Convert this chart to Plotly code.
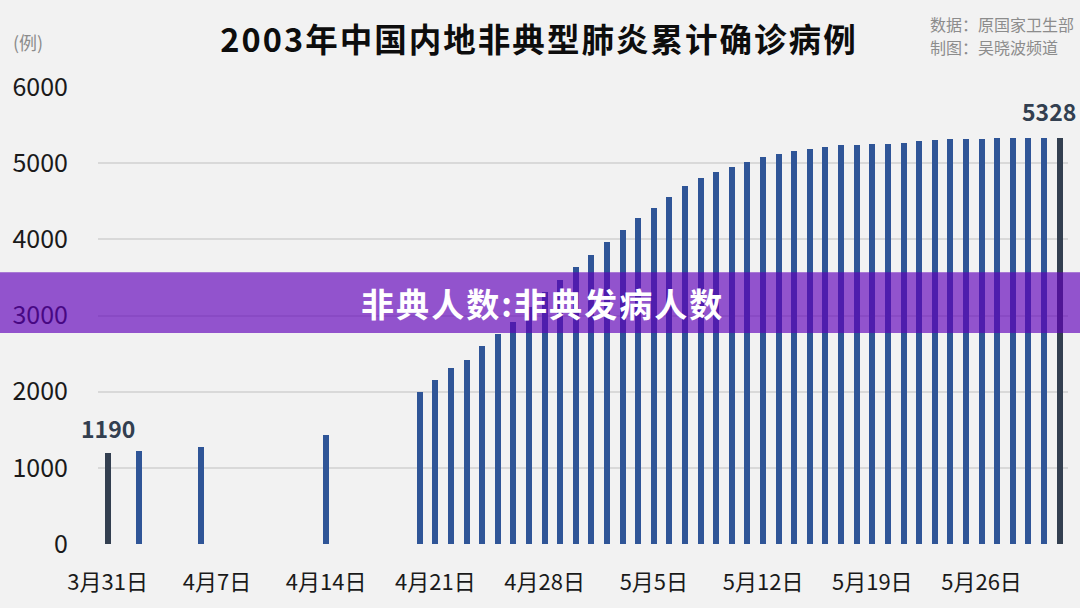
import plotly.graph_objects as go

# ---- data ----
dates = ["2003-03-31", "2003-04-02", "2003-04-06", "2003-04-14",
         "2003-04-20", "2003-04-21", "2003-04-22", "2003-04-23", "2003-04-24",
         "2003-04-25", "2003-04-26", "2003-04-27", "2003-04-28", "2003-04-29",
         "2003-04-30", "2003-05-01", "2003-05-02", "2003-05-03", "2003-05-04",
         "2003-05-05", "2003-05-06", "2003-05-07", "2003-05-08", "2003-05-09",
         "2003-05-10", "2003-05-11", "2003-05-12", "2003-05-13", "2003-05-14",
         "2003-05-15", "2003-05-16", "2003-05-17", "2003-05-18", "2003-05-19",
         "2003-05-20", "2003-05-21", "2003-05-22", "2003-05-23", "2003-05-24",
         "2003-05-25", "2003-05-26", "2003-05-27", "2003-05-28", "2003-05-29",
         "2003-05-30", "2003-05-31"]
cases = [1190, 1220, 1268, 1430,
         2001, 2158, 2305, 2422, 2601,
         2753, 2914, 3106, 3303, 3460,
         3638, 3799, 3971, 4125, 4280,
         4409, 4560, 4698, 4805, 4884,
         4948, 5013, 5086, 5124, 5163,
         5191, 5209, 5236, 5236, 5249,
         5249, 5271, 5285, 5309, 5316,
         5316, 5323, 5325, 5328, 5328,
         5328, 5328]

tick_dates = ["2003-03-31", "2003-04-07", "2003-04-14", "2003-04-21", "2003-04-28",
              "2003-05-05", "2003-05-12", "2003-05-19", "2003-05-26"]
tick_text = ["3月31日", "4月7日", "4月14日", "4月21日", "4月28日",
             "5月5日", "5月12日", "5月19日", "5月26日"]
y_ticks = [0, 1000, 2000, 3000, 4000, 5000, 6000]

title_text = "2003年中国内地非典型肺炎累计确诊病例"
unit_text = "(例)"
source_line1 = "数据：原国家卫生部"
source_line2 = "制图：吴晓波频道"
banner_text = "非典人数:非典发病人数"

# ---- styles ----
BLUE = "#2f5597"
DARK = "#333f50"
FONT = "Noto Sans CJK SC"
HAIR = "\u200a"

colors = [BLUE] * len(cases)
colors[0] = DARK
colors[-1] = DARK
day_ms = 24 * 3600 * 1000
bar_w = 0.385 * day_ms

fig = go.Figure()
fig.add_trace(go.Bar(
    x=dates, y=cases, width=[bar_w] * len(cases),
    marker=dict(color=colors, line=dict(width=0)),
    hoverinfo="x+y",
))

W, H = 1080, 608
ml, mr, mt, mb = 96, 12, 87, 62
pw = W - ml - mr
ph = H - mt - mb


def px(x):
    return (x - ml) / pw


def py(y):
    return (H - mb - y) / ph


spaced_title = HAIR.join(list(title_text))
spaced_banner = HAIR.join(list(banner_text))

fig.update_layout(
    width=W, height=H,
    margin=dict(l=ml, r=mr, t=mt, b=mb),
    paper_bgcolor="#f2f2f2", plot_bgcolor="#f2f2f2",
    showlegend=False,
    bargap=0,
    font=dict(family=FONT, color="#1a1a1a"),
    title=dict(text="<b>" + spaced_title + "</b>", x=538 / W, xref="container",
               xanchor="center", y=1 - 41 / H, yref="container", yanchor="middle",
               font=dict(size=32.5, color="#0d0d0d", family=FONT)),
    xaxis=dict(
        type="date",
        range=["2003-03-30 09:07", "2003-05-31 13:00"],
        tickmode="array", tickvals=tick_dates, ticktext=tick_text,
        tickfont=dict(size=22, color="#1a1a1a", family=FONT),
        ticks="outside", ticklen=19, tickcolor="rgba(0,0,0,0)",
        showgrid=False, zeroline=False, showline=False,
    ),
    yaxis=dict(
        range=[0, 6000],
        tickmode="array", tickvals=y_ticks,
        tickfont=dict(size=25, color="#1a1a1a", family=FONT),
        ticks="outside", ticklen=24, tickcolor="rgba(0,0,0,0)",
        showgrid=True, gridcolor="#d9d9d9", gridwidth=1.5,
        zeroline=False, showline=False,
    ),
)

annotations = [
    dict(x=dates[0], y=cases[0], xref="x", yref="y", text="<b>%d</b>" % cases[0],
         showarrow=False, yanchor="bottom", xanchor="center", yshift=6,
         font=dict(size=23, color=DARK, family=FONT)),
    dict(x=dates[-1], y=cases[-1], xref="x", yref="y", text="<b>%d</b>" % cases[-1],
         showarrow=False, yanchor="bottom", xanchor="center", xshift=-11, yshift=8,
         font=dict(size=23, color=DARK, family=FONT)),
    dict(x=px(9), y=py(42), xref="paper", yref="paper", text=unit_text,
         showarrow=False, xanchor="left", yanchor="middle",
         font=dict(size=18, color="#8c8c8c", family=FONT)),
    dict(x=px(928), y=py(24), xref="paper", yref="paper", text=source_line1,
         showarrow=False, xanchor="left", yanchor="middle", align="left",
         font=dict(size=16, color="#8c8c8c", family=FONT)),
    dict(x=px(928), y=py(46.5), xref="paper", yref="paper", text=source_line2,
         showarrow=False, xanchor="left", yanchor="middle", align="left",
         font=dict(size=16, color="#8c8c8c", family=FONT)),
    dict(x=px(540), y=py(304), xref="paper", yref="paper", text="<b>" + spaced_banner + "</b>",
         showarrow=False, xanchor="center", yanchor="middle",
         font=dict(size=33, color="#ffffff", family=FONT)),
]
fig.update_layout(annotations=annotations)

fig.add_shape(type="rect", xref="paper", yref="paper",
              x0=px(-20), x1=px(W + 20), y0=py(334), y1=py(273),
              fillcolor="rgba(96,0,185,0.66)", line=dict(width=0), layer="above")

fig.write_html("out.html")
